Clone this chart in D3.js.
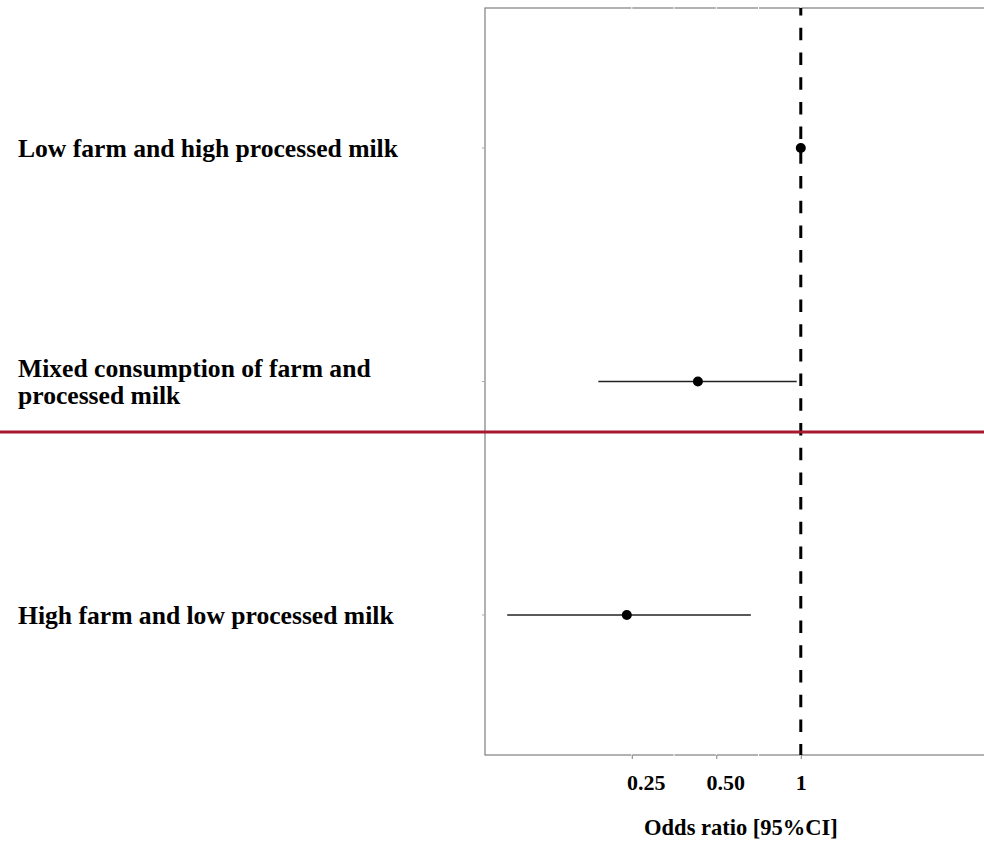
<!DOCTYPE html>
<html>
<head>
<meta charset="utf-8">
<script src="https://cdn.jsdelivr.net/npm/d3@7"></script>
<style>
  body { margin: 0; background: #fff; }
  svg { display: block; }
  text { font-family: "Liberation Serif", "Times New Roman", serif; font-weight: bold; fill: #000; }
</style>
</head>
<body>
<div id="chart"></div>
<script>
// Exposure groups (top to bottom) and their odds ratios with 95% CI
const groups = ["Low farm and high processed milk",
                "Mixed consumption of farm and\nprocessed milk",
                "High farm and low processed milk"];
const oddsRatio = [1, 0.43, 0.24];
const ciLower = [null, 0.19, 0.09];
const ciUpper = [null, 0.967, 0.664];
const tickValues = [0.25, 0.5, 1];
const tickLabels = ["0.25", "0.50", "1"];
const minorTicks = [0.3536, 0.7071];

const W = 984, H = 857;
const panel = {left: 485, right: 997, top: 8, bottom: 755};

const svg = d3.select("#chart").append("svg")
    .attr("width", W)
    .attr("height", H);

// Log2 x scale for odds ratio
const x = d3.scaleLog().base(2)
    .domain([0.075, 5])
    .range([panel.left, panel.right]);

// Discrete y scale, ggplot-like expansion
const y = d3.scalePoint()
    .domain(groups)
    .range([panel.top, panel.bottom])
    .padding(0.6);

const data = groups.map((g, i) => ({group: g, or: oddsRatio[i], lo: ciLower[i], hi: ciUpper[i]}));

// Panel border
svg.append("rect")
   .attr("x", panel.left)
   .attr("y", panel.top)
   .attr("width", panel.right - panel.left)
   .attr("height", panel.bottom - panel.top)
   .attr("fill", "none")
   .attr("stroke", "#7f7f7f")
   .attr("stroke-width", 1.2);

// White grid lines (break through the border like the original)
svg.selectAll(".grid")
   .data(tickValues.concat(minorTicks))
   .enter()
   .append("line")
   .attr("x1", d => x(d))
   .attr("x2", d => x(d))
   .attr("y1", panel.top - 1)
   .attr("y2", panel.bottom + 1)
   .attr("stroke", "#fff")
   .attr("stroke-width", 1);

// Y ticks
svg.selectAll(".ytick")
   .data(groups)
   .enter()
   .append("line")
   .attr("x1", panel.left - 3)
   .attr("x2", panel.left)
   .attr("y1", d => y(d))
   .attr("y2", d => y(d))
   .attr("stroke", "#aaa")
   .attr("stroke-width", 1);

// X axis
const xAxis = svg.append("g")
   .attr("transform", `translate(0,${panel.bottom})`)
   .call(d3.axisBottom(x).tickValues(tickValues)
                         .tickFormat((d, i) => tickLabels[i])
                         .tickSize(4).tickPadding(15));
xAxis.select(".domain").remove();
xAxis.selectAll(".tick line").attr("stroke", "#7f7f7f");
// labels in the original sit a little right of their ticks
const labelShift = [14, 9, 0];
xAxis.selectAll(".tick text")
     .attr("dx", (d, i) => labelShift[i])
     .style("font-family", '"Liberation Serif", "Times New Roman", serif')
     .style("font-weight", "bold")
     .style("font-size", "22px")
     .attr("fill", "#000");

// Reference line at OR = 1
svg.append("line")
   .attr("x1", x(1))
   .attr("x2", x(1))
   .attr("y1", panel.top)
   .attr("y2", panel.bottom)
   .attr("stroke", "#000")
   .attr("stroke-width", 3)
   .attr("stroke-dasharray", "12.5,12.2")
   .attr("stroke-dashoffset", 4.9);

// Confidence intervals
svg.selectAll(".ci")
   .data(data.filter(d => d.lo !== null))
   .enter()
   .append("line")
   .attr("x1", d => x(d.lo))
   .attr("x2", d => x(d.hi))
   .attr("y1", d => y(d.group))
   .attr("y2", d => y(d.group))
   .attr("stroke", "#222")
   .attr("stroke-width", 1.5);

// Point estimates
svg.selectAll(".pt")
   .data(data)
   .enter()
   .append("circle")
   .attr("cx", d => x(d.or))
   .attr("cy", d => y(d.group))
   .attr("r", 5)
   .attr("fill", "#000");

// Group labels
data.forEach(d => {
    const lines = d.group.split("\n");
    const t = svg.append("text")
       .attr("x", 18)
       .attr("y", y(d.group) - (lines.length - 1) * 13.5 + 9)
       .style("font-size", "25.6px");
    lines.forEach((l, i) => {
        t.append("tspan")
         .attr("x", 18)
         .attr("dy", i === 0 ? 0 : 27)
         .text(l);
    });
});

// Red separator line
svg.append("line")
   .attr("x1", 0)
   .attr("x2", W)
   .attr("y1", 432)
   .attr("y2", 432)
   .attr("stroke", "#a6192e")
   .attr("stroke-width", 3);

// Axis title
svg.append("text")
   .attr("x", (panel.left + panel.right) / 2)
   .attr("y", 835)
   .attr("text-anchor", "middle")
   .style("font-size", "22.5px")
   .text("Odds ratio [95%CI]");
</script>
</body>
</html>
